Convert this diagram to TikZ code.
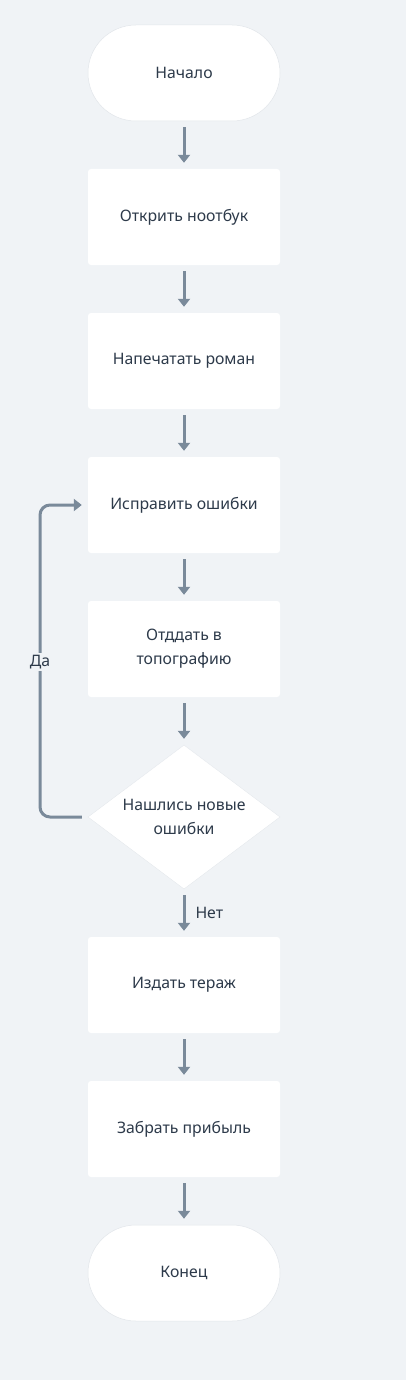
\documentclass[tikz,border=0pt]{standalone}
\usepackage{fontspec}
\setmainfont{Noto Sans}
\usetikzlibrary{shapes.geometric,shapes.misc,arrows.meta}
\definecolor{bgc}{HTML}{F0F3F6}
\definecolor{linec}{HTML}{7A8A9A}
\definecolor{txtc}{HTML}{2D3A4A}
\definecolor{edgec}{HTML}{E2E6EA}
\tikzset{
  every node/.style={font=\fontsize{15.8pt}{24pt}\selectfont, text=txtc},
  procbox/.style={rectangle, rounded corners=3pt, fill=white, minimum width=192pt, minimum height=96pt, align=center, inner sep=0pt},
  termbox/.style={rounded rectangle, fill=white, draw=edgec, line width=0.5pt, minimum width=192pt, minimum height=96pt, inner sep=0pt},
  decbox/.style={diamond, fill=white, draw=edgec, line width=0.3pt, aspect=1.333, minimum width=192pt, minimum height=144pt, inner sep=0pt, align=center},
  flow/.style={draw=linec, line width=3pt, -{Triangle[length=8pt,width=12pt]}},
  lbl/.style={fill=bgc, inner sep=2pt}
}
\begin{document}
\begin{tikzpicture}[x=1pt,y=-1pt]
\fill[bgc] (0,0) rectangle (406,1380);
\useasboundingbox (0,0) rectangle (406,1380);
\node[termbox] (start) at (184,73) {Начало};
\node[procbox] (b1) at (184,217) {Открить ноотбук};
\node[procbox] (b2) at (184,361) {Напечатать роман};
\node[procbox] (b3) at (184,505) {Исправить ошибки};
\node[procbox] (b4) at (184,649) {Отддать в\\топографию};
\node[decbox] (d) at (184,817) {Нашлись новые\\ошибки};
\node[procbox] (b5) at (184,985) {Издать тераж};
\node[procbox] (b6) at (184,1129) {Забрать прибыль};
\node[termbox] (end) at (184,1273) {Конец};
\foreach \a/\b in {start/b1,b1/b2,b2/b3,b3/b4,b4/d,b5/b6,b6/end}
  \draw[flow] ([yshift=-6pt]\a.south) -- ([yshift=6pt]\b.north);
\draw[flow] ([yshift=-6pt]d.south) -- node[right, inner sep=0pt, xshift=10pt, yshift=0pt] (no) {Нет} ([yshift=6pt]b5.north);
\coordinate (lc) at (40,0);
\draw[flow, rounded corners=10pt] ([xshift=-6pt]d.west) -| (lc |- b3.west) -- ([xshift=-6pt]b3.west);
\node[lbl] (yes) at (40,662) {Да};
\end{tikzpicture}
\end{document}
